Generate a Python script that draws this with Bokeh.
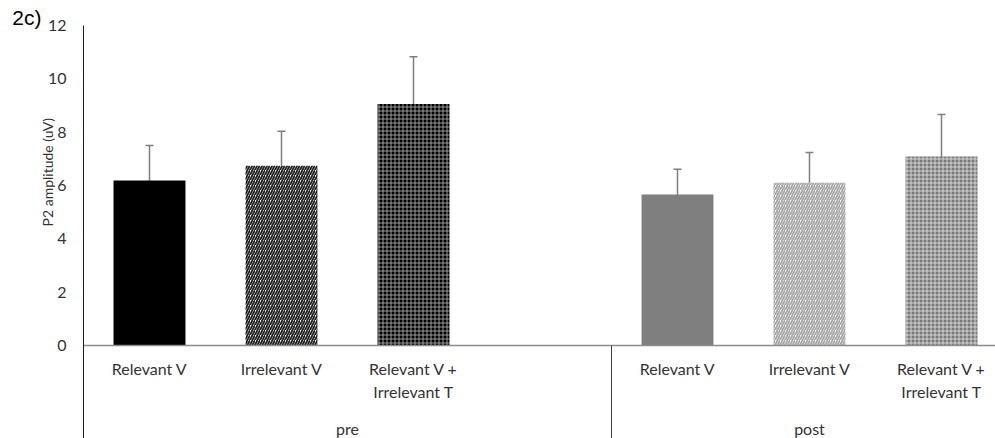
import math
from bokeh.plotting import figure
from bokeh.models import (Range1d, FixedTicker, ColumnDataSource, Whisker, TeeHead)
from bokeh.core.properties import value
from bokeh.embed import file_html
from bokeh.resources import INLINE

# ---- data ----
phases = ["pre", "post"]
conditions = ["Relevant V", "Irrelevant V", "Relevant V +\nIrrelevant T"]
pre_means = [6.19, 6.74, 9.06]
pre_errors = [1.31, 1.29, 1.77]
post_means = [5.66, 6.10, 7.09]
post_errors = [0.95, 1.14, 1.57]
y_ticks = [0, 2, 4, 6, 8, 10, 12]
y_label = "P2 amplitude (uV)"
panel_tag = "2c)"

# ---- styles ----
FONT = "Lato"
TXT = "#333333"
pre_styles = [
    dict(fill_color="#000000", hatch_pattern=None, hatch_color=None),
    dict(fill_color="#ffffff", hatch_pattern="/", hatch_color="#1f1f1f"),
    dict(fill_color="#000000", hatch_pattern="+", hatch_color="#bdbdbd"),
]
post_styles = [
    dict(fill_color="#7f7f7f", hatch_pattern=None, hatch_color=None),
    dict(fill_color="#ffffff", hatch_pattern="/", hatch_color="#a6a6a6"),
    dict(fill_color="#7a7a7a", hatch_pattern="+", hatch_color="#e6e6e6"),
]

W, H = 995, 438
X0, Y0 = 83, 345          # pixel of the data origin
PX_X, PX_Y = 132, 26.667  # pixels per data unit

# slots: pre group has 4 slots (last empty), post group 3 slots
pre_slots = 4
post_slots = 3
pre_x = [i + 0.5 for i in range(len(pre_means))]
post_x = [pre_slots + i + 0.5 for i in range(len(post_means))]

x_lo, x_hi = -X0 / PX_X, (W - X0) / PX_X
y_lo, y_hi = -(H - Y0) / PX_Y, Y0 / PX_Y

p = figure(width=W, height=H, output_backend="svg", toolbar_location=None,
           x_range=Range1d(x_lo, x_hi), y_range=Range1d(y_lo, y_hi),
           x_axis_location=None, min_border=0, min_border_left=0, min_border_right=0,
           min_border_top=0, min_border_bottom=0)
p.outline_line_color = None
p.grid.visible = False
p.background_fill_color = "white"

yax = p.yaxis[0]
yax.fixed_location = 0
yax.bounds = (y_lo, y_ticks[-1])
yax.ticker = FixedTicker(ticks=y_ticks)
yax.major_tick_line_color = None
yax.minor_tick_line_color = None
yax.major_tick_out = 0
yax.major_tick_in = 0
yax.major_label_standoff = 17
yax.axis_line_color = "#1a1a1a"
yax.axis_line_width = 1
yax.major_label_text_font = FONT
yax.major_label_text_font_size = "16px"
yax.major_label_text_color = TXT

bar_w = 0.545
for xs, means, styles in [(pre_x, pre_means, pre_styles), (post_x, post_means, post_styles)]:
    for x, m, st in zip(xs, means, styles):
        kw = dict(x=[x], top=[m], bottom=0, width=bar_w, fill_color=st["fill_color"],
                  line_color=None)
        if st["hatch_pattern"] == "/":
            kw.update(hatch_pattern="/", hatch_color=st["hatch_color"],
                      hatch_scale=5, hatch_weight=1.8)
        elif st["hatch_pattern"] == "+":
            kw.update(hatch_pattern="+", hatch_color=st["hatch_color"],
                      hatch_scale=4, hatch_weight=0.8)
        p.vbar(**kw)

# x axis line at zero (from the y axis to the right edge)
p.segment(x0=[0], y0=[0], x1=[x_hi], y1=[0], line_color="#8c8c8c", line_width=1.5)

# error bars
xs_all = pre_x + post_x
means_all = pre_means + post_means
errs_all = pre_errors + post_errors
src = ColumnDataSource(dict(x=xs_all,
                            upper=[m + e for m, e in zip(means_all, errs_all)],
                            lower=[m - e for m, e in zip(means_all, errs_all)]))
w = Whisker(base="x", upper="upper", lower="lower", source=src,
            line_color="#7f7f7f", line_width=1.5,
            upper_head=TeeHead(size=8, line_color="#7f7f7f", line_width=1.5),
            lower_head=TeeHead(size=8, line_color="#7f7f7f", line_width=1.5))
p.add_layout(w)

# group divider
p.segment(x0=[pre_slots], y0=[0], x1=[pre_slots], y1=[y_lo], line_color="#404040", line_width=1)

# category labels
p.text(x=xs_all, y=[-0.52] * len(xs_all), text=conditions + conditions,
       text_font=value(FONT), text_font_size="16px", text_color=TXT,
       text_align="center", text_baseline="top", text_line_height=1.18)

# group labels
group_x = [pre_slots / 2, pre_slots + post_slots / 2]
p.text(x=group_x, y=[-3.1, -3.1], text=phases,
       text_font=value(FONT), text_font_size="16px", text_color=TXT,
       text_align="center", text_baseline="middle")

# y axis title
p.text(x=[-0.27], y=[6.5], text=[y_label], angle=math.pi / 2,
       text_font=value(FONT), text_font_size="14px", text_color=TXT,
       text_align="center", text_baseline="middle")

# panel tag
p.text(x=[-0.54], y=[12.3], text=[panel_tag],
       text_font=value("Liberation Sans"), text_font_size="21px", text_color="#000000",
       text_align="left", text_baseline="middle")

open("out.html", "w").write(file_html(p, INLINE))
